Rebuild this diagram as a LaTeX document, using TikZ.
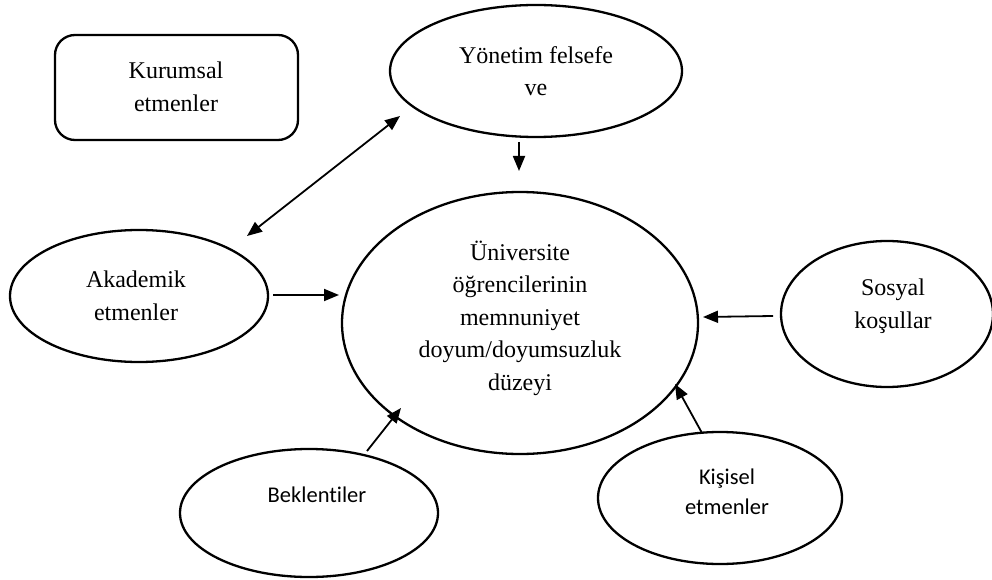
\documentclass[tikz,border=0pt]{standalone}
\usepackage{fontspec}
\setmainfont{Liberation Serif}
\newfontfamily\calib[Ligatures=NoCommon]{Carlito}
\usetikzlibrary{shapes.geometric,arrows.meta}
\begin{document}
\begin{tikzpicture}[x=1pt,y=-1pt,
  oval/.style={draw,ellipse,line width=2.3pt,inner sep=0pt},
  lbl/.style={align=center,font=\fontsize{24}{32.5}\selectfont,inner sep=0pt},
  slbl/.style={align=center,font=\calib\fontsize{22.5}{30}\selectfont,inner sep=0pt},
  arr/.style={-{Triangle[length=15pt,width=12pt]},line width=1.8pt},
  darr/.style={{Triangle[length=15pt,width=12pt]}-{Triangle[length=15pt,width=12pt]},line width=1.8pt}]
\useasboundingbox (0,0) rectangle (992,580);
% shapes
\node[draw,rounded corners=20pt,line width=2.3pt,minimum width=243pt,minimum height=105pt] (kur) at (176.5,87.5) {};
\node[oval,minimum width=292pt,minimum height=132pt] (yon) at (536,71) {};
\node[oval,minimum width=356pt,minimum height=262pt] (uni) at (520,323) {};
\node[oval,minimum width=258pt,minimum height=132pt] (aka) at (139,296) {};
\node[oval,minimum width=212pt,minimum height=146pt] (sos) at (887,314) {};
\node[oval,minimum width=258pt,minimum height=128pt] (bek) at (309,513) {};
\node[oval,minimum width=244pt,minimum height=132pt] (kis) at (720,498) {};
% texts
\node[lbl] (kurt) at (176,87) {Kurumsal\\etmenler};
\node[lbl] (yont) at (536,71) {Yönetim felsefe\\ve};
\node[lbl] (unit) at (520,318) {Üniversite\\öğrencilerinin\\memnuniyet\\doyum/doyumsuzluk\\düzeyi};
\node[lbl] (akat) at (136,296) {Akademik\\etmenler};
\node[lbl] (sost) at (893,306) {Sosyal\\koşullar};
\node[slbl] (bekt) at (317,495) {Beklentiler};
\node[slbl] (kist) at (727,492) {Kişisel\\etmenler};
% connector ends
\coordinate (d1) at (247,236);
\coordinate (d2) at (400,116);
\coordinate (y1) at (519,142);
\coordinate (y2) at (519,171);
\coordinate (a1) at (273,295);
\coordinate (a2) at (339,295);
\coordinate (s1) at (773,316);
\coordinate (s2) at (703,317);
\coordinate (b1) at (367,451);
\coordinate (b2) at (401,408);
\coordinate (k1) at (702,433);
\coordinate (k2) at (675,384);
% connectors
\draw[darr] (d1) -- (d2);
\draw[arr] (y1) -- (y2);
\draw[arr] (a1) -- (a2);
\draw[arr] (s1) -- (s2);
\draw[arr] (b1) -- (b2);
\draw[arr] (k1) -- (k2);
\end{tikzpicture}
\end{document}
